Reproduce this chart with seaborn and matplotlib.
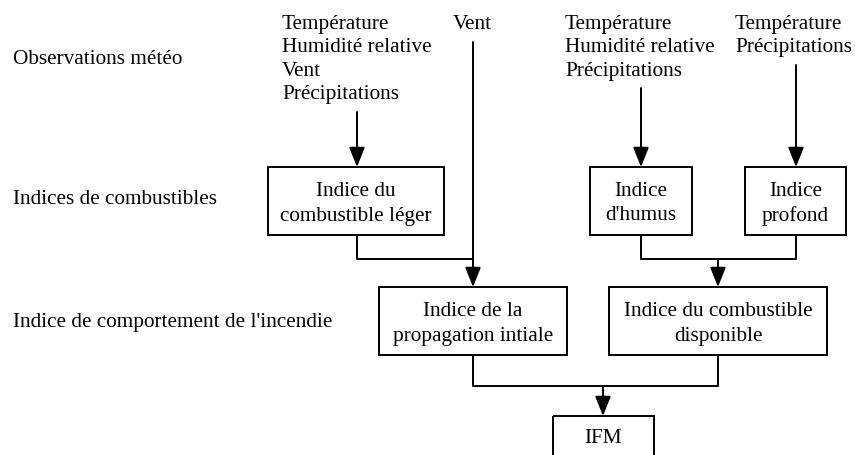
import matplotlib
matplotlib.use("Agg")
import matplotlib.pyplot as plt
import seaborn as sns
from matplotlib.patches import Rectangle

# ---- content ----
level_labels = ["Observations météo", "Indices de combustibles",
                "Indice de comportement de l'incendie"]
input_labels = ["Température\nHumidité relative\nVent\nPrécipitations",
                "Vent",
                "Température\nHumidité relative\nPrécipitations",
                "Température\nPrécipitations"]
box_labels = ["Indice du\ncombustible léger", "Indice\nd'humus", "Indice\nprofond",
              "Indice de la\npropagation intiale", "Indice du combustible\ndisponible",
              "IFM"]

# ---- layout (pixels, y from top) ----
level_pos = [(13, 59), (13, 200), (13, 323)]
input_pos = [(282, 22), (453, 22), (565, 22), (735, 22)]
boxes = [(268, 167, 444, 235), (590, 167, 692, 235), (745, 167, 846, 235),
         (379, 287, 567, 355), (609, 287, 827, 355), (553, 416, 654, 470)]

sns.set_theme(style="white")
plt.rcParams['font.family'] = ['Liberation Serif', 'DejaVu Serif']

fig = plt.figure(figsize=(8.55, 4.55), dpi=100)
ax = fig.add_axes([0, 0, 1, 1])
ax.set_xlim(0, 855)
ax.set_ylim(455, 0)
ax.axis("off")

FS = 15.3
LW = 1.4
LINE_PX = 23.3

for lab, (x, y) in zip(level_labels, level_pos):
    ax.text(x, y, lab, ha="left", va="center", fontsize=FS, color="black")

# each input line placed individually so spacing matches
for lab, (x, y) in zip(input_labels, input_pos):
    for i, part in enumerate(lab.split("\n")):
        ax.text(x, y + i * LINE_PX, part, ha="left", va="center_baseline",
                fontsize=FS, color="black")

for lab, (x0, y0, x1, y1) in zip(box_labels, boxes):
    ax.add_patch(Rectangle((x0, y0), x1 - x0, y1 - y0, fill=False,
                           edgecolor="black", linewidth=LW, clip_on=False))
    yc = (y0 + y1) / 2 if y1 < 455 else 436
    parts = lab.split("\n")
    n = len(parts)
    for i, part in enumerate(parts):
        ax.text((x0 + x1) / 2, yc + (i - (n - 1) / 2) * 25, part, ha="center",
                va="center_baseline", fontsize=FS, color="black")


def line(xs, ys):
    sns.lineplot(x=xs, y=ys, ax=ax, color="black", linewidth=LW, sort=False,
                 estimator=None)


def arrow(x, y0, y1):
    ax.annotate("", xy=(x, y1), xytext=(x, y0),
                arrowprops=dict(arrowstyle="-|>,head_length=1.0,head_width=0.4",
                                color="black", lw=LW, shrinkA=0, shrinkB=0))


# inputs to fuel indices
arrow(357, 112, 167)
arrow(641, 88, 167)
arrow(796, 65, 167)
# Vent line down to propagation box
arrow(473, 42, 287)
# light fuel to Vent line
line([357, 357, 473], [235, 259, 259])
# humus + profond to disponible
line([641, 641, 796, 796], [235, 259, 259, 235])
arrow(718, 259, 287)
# propagation + disponible to IFM
line([473, 473, 718, 718], [355, 386, 386, 355])
arrow(603, 386, 416)

fig.savefig("out.png", dpi=100)
